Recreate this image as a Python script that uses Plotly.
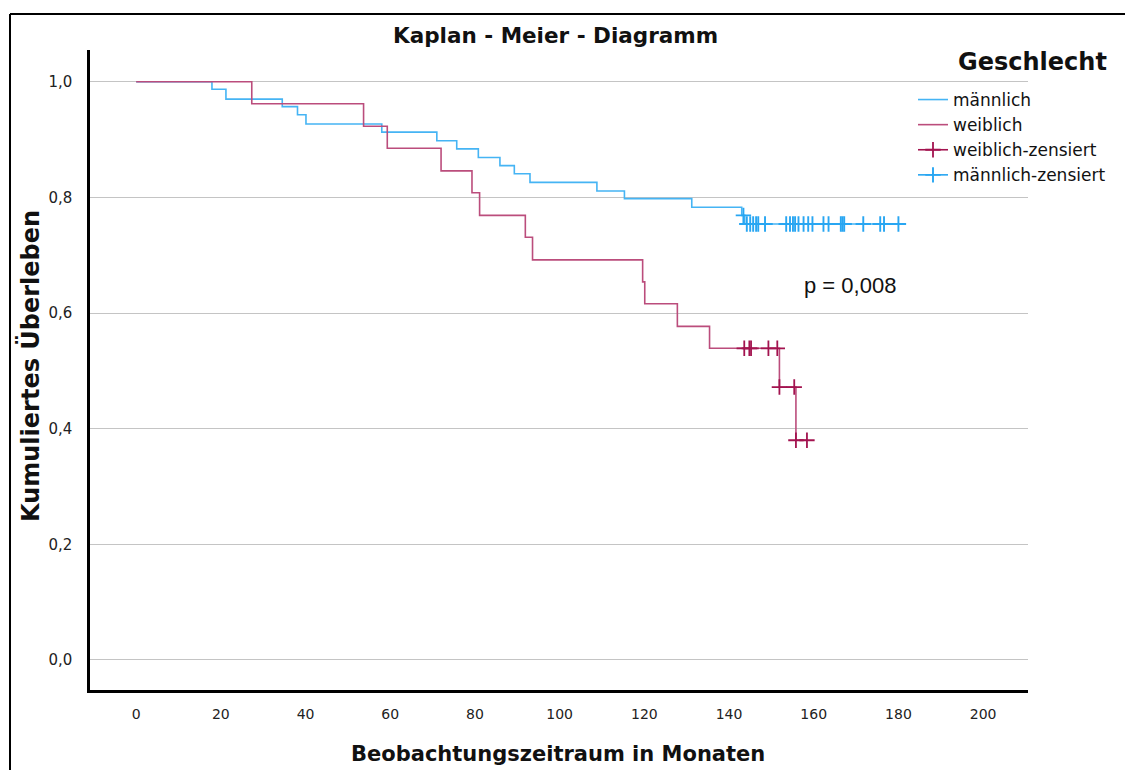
import plotly.graph_objects as go

# ---------------- data ----------------
# männlich (male) step curve
m_times = [0, 17.9, 21.2, 34.5, 38.1, 40.1, 58.0, 71.0, 75.7, 80.8, 85.9, 89.3, 93.0,
           108.8, 115.3, 131.2, 143.0, 143.7]
m_surv = [1.0, 0.987, 0.970, 0.957, 0.943, 0.927, 0.913, 0.898, 0.884, 0.869, 0.855,
          0.841, 0.826, 0.811, 0.798, 0.783, 0.769, 0.754]
m_censored = [143.4, 144.2, 145.0, 145.7, 146.4, 146.9, 148.5, 153.5, 154.4, 155.1,
              155.6, 156.4, 157.6, 158.7, 159.7, 162.3, 163.5, 166.4, 166.8, 167.2,
              171.7, 175.7, 176.6, 180.0]

# weiblich (female) step curve
w_times = [0, 27.3, 53.7, 59.3, 72.0, 79.3, 81.1, 91.9, 93.6, 119.6, 120.1, 127.8,
           135.4, 151.9, 155.8]
w_surv = [1.0, 0.962, 0.923, 0.885, 0.846, 0.808, 0.769, 0.731, 0.692, 0.654, 0.616,
          0.577, 0.539, 0.472, 0.380]
w_censored = [143.6, 144.8, 145.2, 149.3, 151.4, 151.9, 155.4, 155.8, 158.4]

x_ticks = [0, 20, 40, 60, 80, 100, 120, 140, 160, 180, 200]
y_ticks = [0.0, 0.2, 0.4, 0.6, 0.8, 1.0]

title = "Kaplan - Meier - Diagramm"
x_title = "Beobachtungszeitraum in Monaten"
y_title = "Kumuliertes Überleben"
legend_title = "Geschlecht"
p_text = "p = 0,008"

BLUE = "#45b4f4"
BLUE_C = "#28a6f2"
RED = "#bb4d7c"
RED_C = "#a3134f"


def step_value(times, surv, t):
    v = surv[0]
    for ti, si in zip(times, surv):
        if t >= ti:
            v = si
    return v


def extend(times, surv, cens):
    last = max(cens)
    return list(times) + [last], list(surv) + [surv[-1]]


def separated(xs, ys):
    # isolate every censor mark so no connecting line is drawn
    ox, oy = [], []
    for x, y in zip(xs, ys):
        ox += [x, None]
        oy += [y, None]
    return ox, oy


mx, my = extend(m_times, m_surv, m_censored)
wx, wy = extend(w_times, w_surv, w_censored)
wcx, wcy = separated(w_censored, [step_value(w_times, w_surv, t) for t in w_censored])
mcx, mcy = separated(m_censored, [step_value(m_times, m_surv, t) for t in m_censored])

FONT = "DejaVu Sans, Verdana, sans-serif"

fig = go.Figure()
fig.add_trace(go.Scatter(x=mx, y=my, mode="lines", line=dict(color=BLUE, width=1.6, shape="hv"),
                         name="männlich", legendrank=1))
fig.add_trace(go.Scatter(x=wx, y=wy, mode="lines", line=dict(color=RED, width=1.6, shape="hv"),
                         name="weiblich", legendrank=2))
fig.add_trace(go.Scatter(x=wcx, y=wcy, mode="lines+markers", connectgaps=False,
                         line=dict(color=RED_C, width=1.6),
                         marker=dict(symbol="cross-thin", size=11, line=dict(color=RED_C, width=1.8),
                                     color=RED_C),
                         name="weiblich-zensiert", legendrank=3))
fig.add_trace(go.Scatter(x=mcx, y=mcy, mode="lines+markers", connectgaps=False,
                         line=dict(color=BLUE_C, width=1.6),
                         marker=dict(symbol="cross-thin", size=11, line=dict(color=BLUE_C, width=1.9),
                                     color=BLUE_C),
                         name="männlich-zensiert", legendrank=4))

# plot area: left 90, right 1028, top 50, bottom 690
L, R, T, B = 90, 1028, 50, 690
W, H = 1125, 770
pw, ph = R - L, B - T


def px_x(x):
    return (x - L) / pw


def px_y(y):
    return (B - y) / ph


fig.update_layout(
    width=W, height=H,
    margin=dict(l=L, r=W - R, t=T, b=H - B, pad=0),
    paper_bgcolor="white", plot_bgcolor="white",
    separators=", ",
    showlegend=True,
    legend=dict(
        font=dict(family=FONT, size=17, color="#111"),
        x=px_x(913), y=px_y(82), xanchor="left", yanchor="top",
        bgcolor="rgba(0,0,0,0)", tracegroupgap=0, itemwidth=30,
    ),
    xaxis=dict(
        range=[-10.9, 210.6], tickvals=x_ticks, ticktext=[str(v) for v in x_ticks],
        showgrid=False, zeroline=False, showline=True, linecolor="black", linewidth=2.5,
        ticks="", tickfont=dict(family=FONT, size=14, color="#222"), ticklabelstandoff=9,
    ),
    yaxis=dict(
        range=[-0.052, 1.055], tickvals=y_ticks, tickformat=".1f",
        showgrid=True, gridcolor="#c4c4c4", gridwidth=1.2, zeroline=False,
        showline=True, linecolor="black", linewidth=2.5,
        ticks="", tickfont=dict(family=FONT, size=15, color="#222"), ticklabelstandoff=12,
    ),
    annotations=[
        dict(text="<b>" + title + "</b>", xref="paper", yref="paper", x=px_x(555), y=px_y(35),
             xanchor="center", yanchor="middle",
             showarrow=False, font=dict(family=FONT, size=21.5, color="#111")),
        dict(text="<b>" + x_title + "</b>", xref="paper", yref="paper", x=px_x(558), y=px_y(754),
             xanchor="center", yanchor="middle",
             showarrow=False, font=dict(family=FONT, size=21, color="#111")),
        dict(text="<b>" + y_title + "</b>", xref="paper", yref="paper", x=px_x(30), y=px_y(366),
             xanchor="center", yanchor="middle",
             showarrow=False, textangle=-90, font=dict(family=FONT, size=24, color="#111")),
        dict(text="<b>" + legend_title + "</b>", xref="paper", yref="paper", x=px_x(1032), y=px_y(62),
             xanchor="center", yanchor="middle",
             showarrow=False, font=dict(family=FONT, size=24, color="#111")),
        dict(text=p_text, xref="x", yref="y", x=168.6, y=0.647, showarrow=False,
             xanchor="center", yanchor="middle",
             font=dict(family="Liberation Sans, Arial, sans-serif", size=22, color="#111")),
    ],
    shapes=[
        dict(type="line", xref="paper", yref="paper", x0=px_x(10), x1=px_x(1125), y0=px_y(14), y1=px_y(14),
             line=dict(color="black", width=2)),
        dict(type="line", xref="paper", yref="paper", x0=px_x(10), x1=px_x(10), y0=px_y(14), y1=px_y(770),
             line=dict(color="black", width=2)),
    ],
)

fig.write_html("out.html")
